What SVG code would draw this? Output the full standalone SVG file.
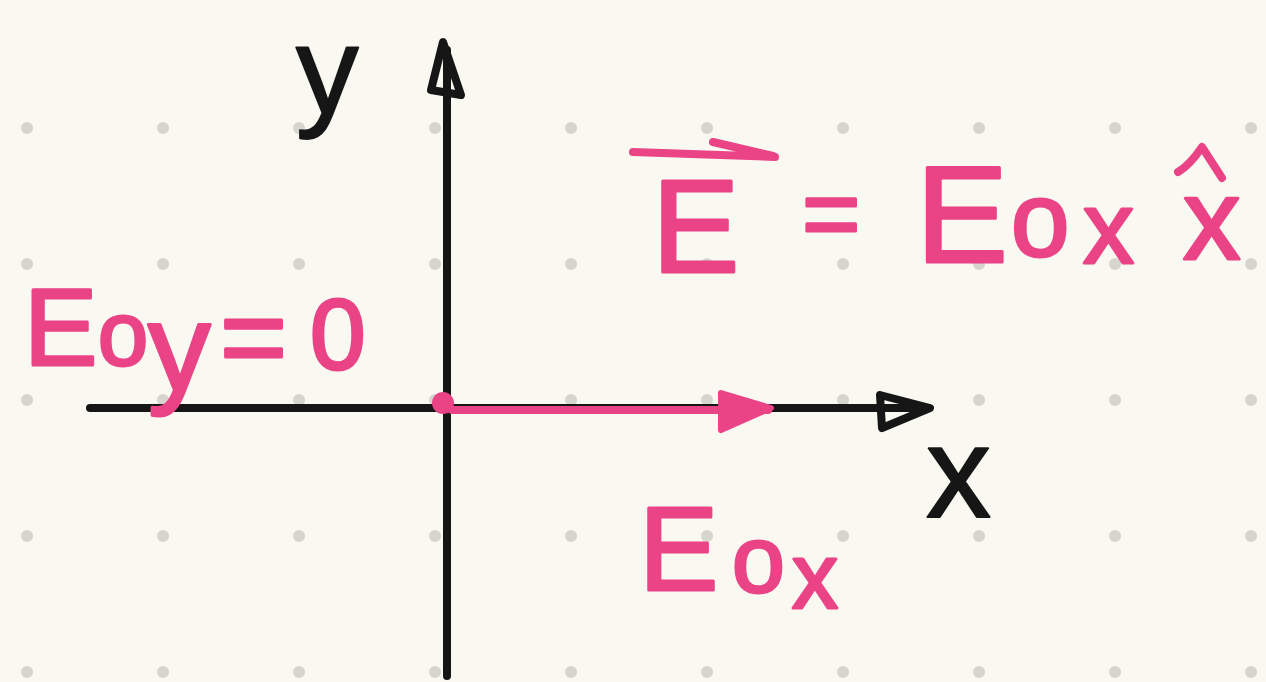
<svg xmlns="http://www.w3.org/2000/svg" width="1266" height="682" viewBox="0 0 1266 682">
  <defs>
    <style>
      .dot { fill: #d6d6cf; }
      .ink { fill: none; stroke: #161616; stroke-width: 8; stroke-linecap: round; stroke-linejoin: round; }
      .pinkline { fill: none; stroke: #ea4386; stroke-width: 8; stroke-linecap: round; stroke-linejoin: round; }
      .pinkfill { fill: #ea4386; stroke: #ea4386; stroke-width: 6; stroke-linejoin: round; }
      .pk { font-family: "Liberation Sans", Arial, sans-serif; fill: #ea4386; stroke: #ea4386; stroke-width: 3; stroke-linejoin: round; }
      .bk { font-family: "Liberation Sans", Arial, sans-serif; fill: #161616; stroke: #161616; stroke-width: 2; stroke-linejoin: round; }
    </style>
    <pattern id="dots" x="0" y="0" width="136" height="136" patternUnits="userSpaceOnUse">
      <circle class="dot" cx="27" cy="128" r="6"/>
    </pattern>
  </defs>

  <rect width="1266" height="682" fill="#f9f8f1"/>
  <g id="grid">
    <rect width="1266" height="682" fill="url(#dots)"/>
  </g>

  <g id="connectors">
    <!-- x axis -->
    <path class="ink" d="M90 408 L928 408"/>
    <path class="ink" d="M880 395 L930 408 L882 428 Z"/>
    <!-- y axis -->
    <path class="ink" d="M447 50 L447 676"/>
    <path class="ink" d="M443 42 L431 90 L461 95 Z"/>
    <!-- E vector along x -->
    <path class="pinkline" d="M452 410 L768 410"/>
    <path class="pinkfill" d="M721 393 L771 408 L721 430 Z"/>
    <circle id="origin" cx="443" cy="403" r="11" fill="#ea4386"/>
  </g>

  <g id="label-y">
    <text class="bk" x="296" y="113" font-size="125">y</text>
  </g>
  <g id="label-x">
    <text class="bk" x="926" y="517" font-size="130">x</text>
  </g>

  <g id="label-Eoy">
    <text class="pk"><tspan x="24" y="365" font-size="110">E</tspan><tspan x="98" y="365" font-size="90">o</tspan><tspan x="148" y="390" font-size="125">y</tspan><tspan x="220" y="376" font-size="115">=</tspan><tspan x="310" y="369" font-size="100">0</tspan></text>
  </g>

  <g id="label-E">
    <text class="pk"><tspan x="652" y="272" font-size="131">E </tspan><tspan x="802" y="248" font-size="100">= </tspan><tspan x="916" y="262" font-size="138">E</tspan><tspan x="1011" y="256" font-size="105">o</tspan><tspan x="1083" y="263" font-size="102">x </tspan><tspan x="1183" y="259" font-size="115">x</tspan></text>
    <path class="pinkline" stroke-width="9" d="M633 152 L775 157 M713 142 L773 156"/>
    <path class="pinkline" stroke-width="9" d="M1178 172 Q1190 165 1202 147 L1222 178"/>
  </g>

  <g id="label-Eox">
    <text class="pk"><tspan x="639" y="590" font-size="119">E</tspan><tspan x="732" y="592" font-size="95">o</tspan><tspan x="792" y="608" font-size="92">x</tspan></text>
  </g>
</svg>
